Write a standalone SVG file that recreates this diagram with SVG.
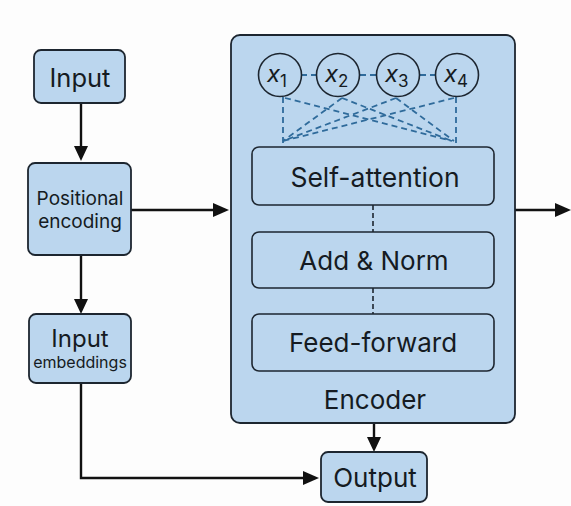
<svg xmlns="http://www.w3.org/2000/svg" width="571" height="506" viewBox="0 0 571 506">
  <defs>
    <style>
      .box { fill: #bbd6ee; stroke: #1d2630; stroke-width: 1.8; }
      .inner { fill: #bbd6ee; stroke: #1d2630; stroke-width: 1.6; }
      .lbl { font-family: Inter, "Liberation Sans", sans-serif; fill: #151b22; text-anchor: middle; }
      .var { font-family: Inter, "Liberation Sans", sans-serif; fill: #151b22; font-style: italic; }
      .wire { fill: none; stroke: #111; stroke-width: 2.4; }
      .head { fill: #111; }
      .attn { fill: none; stroke: #2f6b9b; stroke-width: 1.8; stroke-dasharray: 6 4; }
      .link { fill: none; stroke: #1d2630; stroke-width: 1.6; stroke-dasharray: 5 3; }
    </style>
  </defs>
  <rect width="571" height="506" fill="#fdfdfd"/>

  <!-- connectors -->
  <g id="connectors">
    <line class="wire" x1="81" y1="103" x2="81" y2="148"/>
    <path class="head" d="M74,146 L88,146 L81,161 z"/>
    <line class="wire" x1="131" y1="210" x2="215" y2="210"/>
    <path class="head" d="M213,203 L229,210 L213,217 z"/>
    <line class="wire" x1="81" y1="255" x2="81" y2="301"/>
    <path class="head" d="M74,299 L88,299 L81,314 z"/>
    <polyline class="wire" points="81,383 81,478 305,478"/>
    <path class="head" d="M303,471 L319,478 L303,485 z"/>
    <line class="wire" x1="374" y1="423" x2="374" y2="439"/>
    <path class="head" d="M367,437 L381,437 L374,452 z"/>
    <line class="wire" x1="515" y1="210" x2="557" y2="210"/>
    <path class="head" d="M555,203 L571,210 L555,217 z"/>
  </g>

  <!-- encoder block -->
  <g id="encoder">
    <rect class="box" x="231" y="35" width="284" height="388" rx="9"/>
    <text class="lbl" x="375" y="409" font-size="26">Encoder</text>
  </g>

  <!-- token attention links -->
  <g id="attention-links">
    <line class="attn" x1="301" y1="75" x2="316" y2="75"/>
    <line class="attn" x1="360" y1="75" x2="376" y2="75"/>
    <line class="attn" x1="420" y1="75" x2="435" y2="75"/>
    <line class="attn" x1="283" y1="97" x2="283" y2="146"/>
    <line class="attn" x1="456" y1="97" x2="456" y2="146"/>
    <line class="attn" x1="285" y1="98" x2="452" y2="141"/>
    <line class="attn" x1="342" y1="98" x2="283" y2="141"/>
    <line class="attn" x1="342" y1="98" x2="452" y2="141"/>
    <line class="attn" x1="396" y1="98" x2="283" y2="141"/>
    <line class="attn" x1="396" y1="98" x2="454" y2="141"/>
    <line class="attn" x1="454" y1="98" x2="283" y2="141"/>
  </g>

  <g id="x1">
    <circle cx="280" cy="75" r="21.5" class="inner"/>
    <text class="var" x="267" y="82" font-size="24">x<tspan font-style="normal" font-size="17" dy="5">1</tspan></text>
  </g>
  <g id="x2">
    <circle cx="338" cy="75" r="21.5" class="inner"/>
    <text class="var" x="325" y="82" font-size="24">x<tspan font-style="normal" font-size="17" dy="5">2</tspan></text>
  </g>
  <g id="x3">
    <circle cx="398" cy="75" r="21.5" class="inner"/>
    <text class="var" x="385" y="82" font-size="24">x<tspan font-style="normal" font-size="17" dy="5">3</tspan></text>
  </g>
  <g id="x4">
    <circle cx="457" cy="75" r="21.5" class="inner"/>
    <text class="var" x="444" y="82" font-size="24">x<tspan font-style="normal" font-size="17" dy="5">4</tspan></text>
  </g>

  <!-- sublayer links -->
  <g id="sublayer-links">
    <line class="link" x1="373" y1="205" x2="373" y2="232"/>
    <line class="link" x1="373" y1="288" x2="373" y2="314"/>
  </g>

  <g id="self-attention">
    <rect class="inner" x="252" y="147" width="242" height="58" rx="7"/>
    <text class="lbl" x="375" y="187" font-size="26.5">Self-attention</text>
  </g>
  <g id="add-norm">
    <rect class="inner" x="252" y="232" width="242" height="56" rx="7"/>
    <text class="lbl" x="374" y="270" font-size="26">Add &amp; Norm</text>
  </g>
  <g id="feed-forward">
    <rect class="inner" x="252" y="314" width="242" height="57" rx="7"/>
    <text class="lbl" x="373" y="352" font-size="26">Feed-forward</text>
  </g>

  <g id="input">
    <rect class="box" x="34" y="50" width="91" height="53" rx="7"/>
    <text class="lbl" x="80" y="87" font-size="25.5">Input</text>
  </g>
  <g id="positional-encoding">
    <rect class="box" x="28" y="163" width="103" height="92" rx="7"/>
    <text class="lbl" x="80" y="205" font-size="19">Positional</text>
    <text class="lbl" x="80" y="228" font-size="19">encoding</text>
  </g>
  <g id="input-embeddings">
    <rect class="box" x="29" y="314" width="102" height="69" rx="7"/>
    <text class="lbl" x="80" y="347" font-size="24">Input</text>
    <text class="lbl" x="80" y="368" font-size="16">embeddings</text>
  </g>
  <g id="output">
    <rect class="box" x="321" y="452" width="106" height="50" rx="7"/>
    <text class="lbl" x="375" y="487" font-size="26">Output</text>
  </g>
</svg>
